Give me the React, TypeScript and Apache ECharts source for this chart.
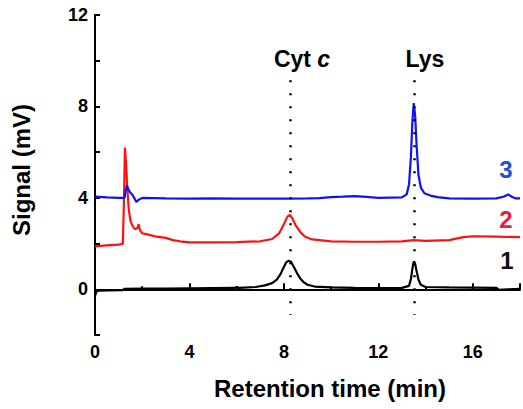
import React, { useEffect, useRef } from "react";
import * as echarts from "echarts";

// Chromatograms: [retention time (min), signal (mV)]
const trace1: [number, number][] = [
  [0, -0.3], [0.05, -0.12], [0.15, -0.06], [0.6, -0.05], [1.15, -0.04], [1.25, 0.02], [2, 0.03], [3, 0.03],
  [4, 0.04], [5, 0.05], [5.9, 0.06], [6, 0.1], [6.1, 0.06], [6.8, 0.1], [7.2, 0.17], [7.5, 0.27],
  [7.7, 0.42], [7.85, 0.65], [8.0, 0.98], [8.1, 1.18], [8.2, 1.25], [8.3, 1.2], [8.4, 1.02],
  [8.55, 0.72], [8.7, 0.46], [8.85, 0.3], [9.0, 0.2], [9.3, 0.12], [10, 0.08], [11, 0.06],
  [12, 0.05], [13, 0.06], [13.3, 0.15], [13.38, 0.45], [13.45, 0.95], [13.5, 1.22], [13.55, 1.15],
  [13.62, 0.8], [13.7, 0.42], [13.8, 0.2], [14, 0.1], [15, 0.08], [16, 0.07], [17, 0.06],
  [17.1, -0.02], [17.5, 0.0], [18, 0.02],
];
const trace2: [number, number][] = [
  [0, 1.88], [0.5, 1.92], [1.0, 1.95], [1.18, 2.0], [1.22, 3.6], [1.27, 6.2], [1.32, 5.4],
  [1.37, 4.4], [1.43, 3.5], [1.5, 3.0], [1.6, 2.75], [1.7, 2.62], [1.8, 2.68], [1.85, 2.85],
  [1.9, 2.6], [2.0, 2.45], [2.3, 2.38], [2.6, 2.3], [3.0, 2.25], [3.3, 2.15], [3.6, 2.1],
  [4, 2.05], [5, 2.05], [6, 2.06], [7, 2.1], [7.5, 2.2], [7.8, 2.45], [8.0, 2.85], [8.15, 3.18],
  [8.25, 3.25], [8.35, 3.12], [8.5, 2.8], [8.7, 2.5], [8.9, 2.3], [9.2, 2.18], [10, 2.1],
  [11, 2.08], [12, 2.08], [13, 2.1], [13.5, 2.15], [14, 2.12], [15, 2.15], [15.6, 2.28],
  [16, 2.32], [17, 2.3], [18, 2.28],
];
const trace3: [number, number][] = [
  [0, 4.05], [0.5, 4.02], [1.0, 4.0], [1.25, 4.0], [1.3, 4.3], [1.35, 4.55], [1.4, 4.4],
  [1.48, 4.25], [1.57, 4.15], [1.66, 4.0], [1.75, 3.82], [1.85, 3.92], [2.0, 4.0], [3, 3.98],
  [4, 3.97], [5, 3.98], [6, 3.97], [7, 3.97], [8, 3.97], [9, 3.98], [9.5, 3.99], [10, 4.03],
  [10.5, 4.05], [11, 4.08], [11.5, 4.04], [12, 4.0], [13, 4.02], [13.2, 4.15], [13.3, 4.6],
  [13.38, 5.8], [13.44, 7.3], [13.5, 8.15], [13.56, 7.6], [13.62, 6.3], [13.7, 5.0],
  [13.8, 4.45], [13.95, 4.2], [14.2, 4.1], [14.5, 4.03], [15, 3.98], [16, 3.97], [17, 3.98],
  [17.3, 4.05], [17.5, 4.15], [17.65, 4.05], [17.8, 3.98], [18, 3.98],
];

// Peak marker positions (min) and vertical extents (mV)
const peakMarkers = [
  { name: "Cyt c", time: 8.25 },
  { name: "Lys", time: 13.5 },
];
const markerTop = 9.15;
const markerBottom = -1.12;

const xTicks = { min: 0, max: 18, interval: 4 };
const yTicks = { min: -2, max: 12, interval: 2 };

const FONT = 'Arial, "Liberation Sans", Helvetica, sans-serif';

export default function App() {
  const ref = useRef<HTMLDivElement>(null);
  useEffect(() => {
    if (!ref.current) return;
    const chart = echarts.init(ref.current, null, { renderer: "svg" });
    const lineSeries = (data: [number, number][], color: string, extra: any = {}) => ({
      type: "line",
      data,
      showSymbol: false,
      symbol: "none",
      lineStyle: { color, width: 2.2 },
      itemStyle: { color },
      silent: true,
      ...extra,
    });
    chart.setOption({
      animation: false,
      backgroundColor: "#ffffff",
      textStyle: { fontFamily: FONT },
      grid: { left: 95, right: 0, top: 15, bottom: 74 },
      xAxis: {
        type: "value",
        min: xTicks.min,
        max: xTicks.max,
        interval: xTicks.interval,
        axisLine: { show: true, lineStyle: { color: "#000", width: 2 } },
        axisTick: { show: true, inside: true, length: 6, lineStyle: { color: "#000", width: 2 } },
        minorTick: { show: true, splitNumber: 2, length: 3, lineStyle: { color: "#000", width: 2 } },
        splitLine: { show: false },
        axisLabel: {
          color: "#000",
          fontSize: 18,
          fontWeight: "bold",
          fontFamily: FONT,
          margin: 8,
          formatter: (v: number) => (v % 4 === 0 && v <= 16 ? String(v) : ""),
        },
      },
      yAxis: {
        type: "value",
        min: yTicks.min,
        max: yTicks.max,
        interval: yTicks.interval,
        axisLine: { show: true, lineStyle: { color: "#000", width: 2 } },
        axisTick: { show: true, inside: true, length: 5, lineStyle: { color: "#000", width: 2 } },
        splitLine: { show: false },
        axisLabel: {
          color: "#000",
          fontSize: 18,
          fontWeight: "bold",
          fontFamily: FONT,
          margin: 7,
          formatter: (v: number) => (v % 4 === 0 && v >= 0 ? String(v) : ""),
        },
      },
      series: [
        lineSeries(trace1, "#000000", {
          markLine: {
            silent: true,
            symbol: "none",
            label: { show: false },
            lineStyle: { color: "#000", width: 2.5, type: [2, 11] },
            data: peakMarkers.map((m) => [
              { coord: [m.time, markerTop] },
              { coord: [m.time, markerBottom] },
            ]),
          },
        }),
        lineSeries(trace2, "#ff1010"),
        lineSeries(trace3, "#1010ff"),
      ],
      graphic: [
        {
          type: "text",
          x: 330,
          y: 388,
          style: {
            text: "Retention time (min)",
            font: `bold 24px ${FONT}`,
            fill: "#000",
            textAlign: "center",
            textVerticalAlign: "middle",
          },
        },
        {
          type: "text",
          x: 21,
          y: 170,
          rotation: Math.PI / 2,
          style: {
            text: "Signal (mV)",
            font: `bold 24px ${FONT}`,
            fill: "#000",
            textAlign: "center",
            textVerticalAlign: "middle",
          },
        },
        {
          type: "text",
          x: 302,
          y: 59,
          style: {
            text: "{a|Cyt }{b|c}",
            textAlign: "center",
            textVerticalAlign: "middle",
            rich: {
              a: { fontFamily: FONT, fontWeight: "bold", fontSize: 23, fill: "#000", color: "#000" },
              b: { fontFamily: FONT, fontWeight: "bold", fontStyle: "italic", fontSize: 23, fill: "#000", color: "#000" },
            },
          },
        },
        {
          type: "text",
          x: 425,
          y: 59,
          style: {
            text: "Lys",
            font: `bold 23px ${FONT}`,
            fill: "#000",
            textAlign: "center",
            textVerticalAlign: "middle",
          },
        },
        {
          type: "text",
          x: 506,
          y: 169,
          style: { text: "3", font: `bold 24px ${FONT}`, fill: "#2050d0", textAlign: "center", textVerticalAlign: "middle" },
        },
        {
          type: "text",
          x: 506,
          y: 219,
          style: { text: "2", font: `bold 24px ${FONT}`, fill: "#ee1a35", textAlign: "center", textVerticalAlign: "middle" },
        },
        {
          type: "text",
          x: 507,
          y: 260,
          style: { text: "1", font: `bold 24px ${FONT}`, fill: "#111", textAlign: "center", textVerticalAlign: "middle" },
        },
      ],
    });
    return () => chart.dispose();
  }, []);
  return (
    <div
      ref={ref}
      style={{ position: "fixed", left: 0, top: 0, width: 523, height: 409, background: "#fff" }}
    />
  );
}
